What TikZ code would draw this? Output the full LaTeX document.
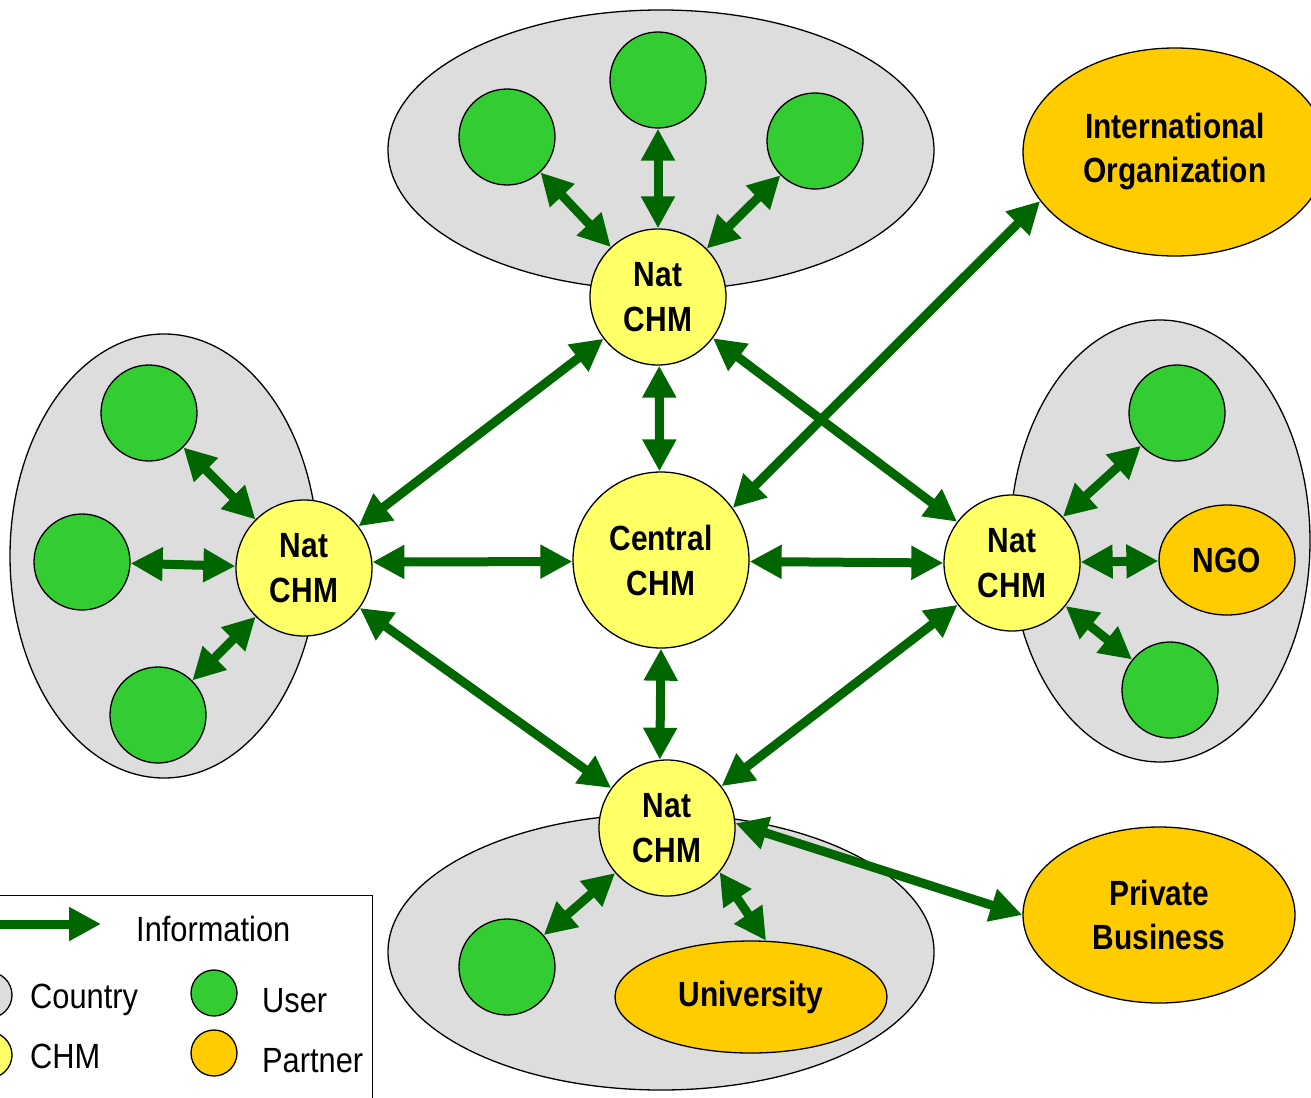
\documentclass[tikz,border=0pt]{standalone}
\usepackage{fontspec}
\setmainfont[FakeStretch=0.855]{Liberation Sans}
\newfontfamily\legfont[FakeStretch=0.88]{Liberation Sans}
\usetikzlibrary{arrows.meta,shapes.geometric}
\definecolor{cgrey}{HTML}{DDDDDD}
\definecolor{cgreen}{HTML}{33CC33}
\definecolor{cyellow}{HTML}{FFFF66}
\definecolor{corange}{HTML}{FFCC00}
\definecolor{carrow}{HTML}{006600}
\tikzset{
  country/.style={ellipse,draw=black,line width=1.3pt,fill=cgrey,inner sep=0pt},
  user/.style={circle,draw=black,line width=1.3pt,fill=cgreen,inner sep=0pt,minimum size=96pt},
  chm/.style={circle,draw=black,line width=1.3pt,fill=cyellow,inner sep=0pt,minimum size=136pt,
     font=\fontsize{35}{45}\selectfont\bfseries,align=center},
  partner/.style={ellipse,draw=black,line width=1.3pt,fill=corange,inner sep=0pt,
     font=\fontsize{35}{44}\selectfont\bfseries,align=center},
  info/.style={draw=carrow,line width=9pt,
     {Triangle[length=32pt,width=32pt]}-{Triangle[length=32pt,width=32pt]}},
  legtext/.style={anchor=base west,inner sep=0pt,font=\legfont\fontsize{35}{40}\selectfont},
  legdot/.style={circle,draw=black,line width=1.3pt,minimum size=46pt,inner sep=0pt},
}
\begin{document}
\begin{tikzpicture}[x=1pt,y=-1pt]
\useasboundingbox (0,0) rectangle (1311,1097);
% countries
\node[country,minimum width=546pt,minimum height=280pt] (ctop) at (661,150) {};
\node[country,minimum width=308pt,minimum height=444pt] (cleft) at (164,556) {};
\node[country,minimum width=300pt,minimum height=442pt] (cright) at (1160,541) {};
\node[country,minimum width=546pt,minimum height=276pt] (cbot) at (661,952) {};
% users
\node[user] (tu1) at (507,137) {};
\node[user] (tu2) at (658,80) {};
\node[user] (tu3) at (815,141) {};
\node[user] (lu1) at (149,413) {};
\node[user] (lu2) at (82,562) {};
\node[user] (lu3) at (158,715) {};
\node[user] (ru1) at (1177,413) {};
\node[user] (ru2) at (1170,690) {};
\node[user] (bu1) at (507,967) {};
% partners
\node[partner,minimum width=304pt,minimum height=208pt] (intorg) at (1175,152) {\raisebox{-5pt}{\begin{tabular}{@{}c@{}}International\\Organization\end{tabular}}};
\node[partner,minimum width=136pt,minimum height=110pt] (ngo) at (1227,560) {NGO};
\node[partner,minimum width=272pt,minimum height=112pt] (univ) at (751,997) {University};
\node[partner,minimum width=272pt,minimum height=176pt] (priv) at (1159,915) {Private\\Business};
% CHMs
\node[chm] (topN) at (658,297) {Nat\\CHM};
\node[chm] (leftN) at (304,568) {Nat\\CHM};
\node[chm] (rightN) at (1012,563) {Nat\\CHM};
\node[chm] (botN) at (667,828) {Nat\\CHM};
\node[chm,minimum size=176pt] (central) at (661,560) {Central\\CHM};
% arrows
\draw[info] (topN) -- (tu1);
\draw[info] (topN) -- (tu2);
\draw[info] (topN) -- (tu3);
\draw[info] (topN) -- (leftN);
\draw[info] (topN.-89) -- (central.91);
\draw[info] (topN) -- (rightN);
\draw[info] (intorg.200) -- (central.36);
\draw[info] (leftN) -- (lu1);
\draw[info] (leftN) -- (lu2);
\draw[info] (leftN) -- (lu3);
\draw[info] (leftN.5) -- (central.181);
\draw[info] (central.359) -- (rightN.180);
\draw[info] (leftN) -- (botN);
\draw[info] (central.-90) -- (botN.96);
\draw[info] (rightN) -- (botN);
\draw[info] (rightN) -- (ru1);
\draw[info] (rightN) -- (ngo);
\draw[info] (rightN) -- (ru2);
\draw[info] (botN) -- (bu1);
\draw[info] (botN.-40) -- (univ.75);
\draw[info] (botN.4) -- (priv.180);
% legend
\node[draw=black,line width=1.3pt,fill=white,minimum width=400pt,minimum height=230pt,anchor=north east,inner sep=0pt] (legbox) at (373,895) {};
\coordinate (la) at (0,924);
\coordinate (lb) at (101,924);
\draw[draw=carrow,line width=9pt,-{Triangle[length=32pt,width=32pt]}] (la) -- (lb);
\node[legtext] (linfo) at (136,941) {Information};
\node[legdot,fill=cgrey] (lc1) at (-11,995) {};
\node[legtext] (lcountry) at (30,1008) {Country};
\node[legdot,fill=cyellow] (lc2) at (-11,1055) {};
\node[legtext] (lchm) at (30,1068) {CHM};
\node[legdot,fill=cgreen] (lc3) at (214,993) {};
\node[legtext] (luser) at (262,1012) {User};
\node[legdot,fill=corange] (lc4) at (214,1053) {};
\node[legtext] (lpartner) at (262,1072) {Partner};
\end{tikzpicture}
\end{document}
